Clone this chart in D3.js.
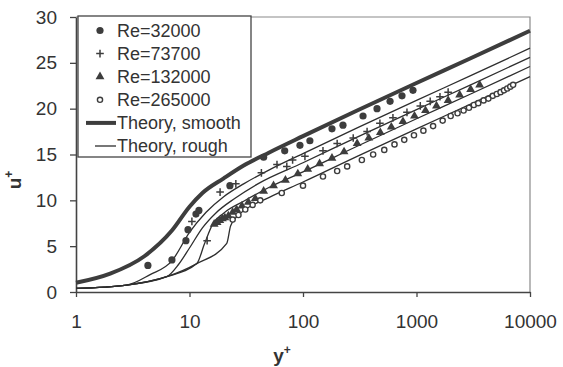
<!DOCTYPE html>
<html>
<head>
<meta charset="utf-8">
<script src="https://cdn.jsdelivr.net/npm/d3@7"></script>
<style>
  body { margin: 0; background: #fff; }
  text { font-family: "Liberation Sans", Arial, sans-serif; fill: #333; }
</style>
</head>
<body>
<div id="chart"></div>
<script>
// theory curves (y+, u+)
const smoothYp = [1, 2, 4, 7, 10, 13, 20, 30, 50, 100, 300, 1000, 3000, 10000];
const smoothUp = [1.0, 2.0, 3.9, 6.7, 9.3, 10.8, 12.4, 13.8, 15.2, 17.0, 19.8, 22.8, 25.5, 28.5];

const rough1Yp = [1, 2.8, 4.5, 7, 10, 14, 20, 30, 50, 100, 300, 1000, 3000, 10000];
const rough1Up = [0.4, 0.76, 1.9, 3.4, 6.5, 8.7, 10.4, 11.8, 13.3, 15.1, 17.9, 20.9, 23.6, 26.6];
const rough2Yp = [1, 2.8, 6.3, 8, 10, 13, 17, 25, 40, 100, 300, 1000, 3000, 10000];
const rough2Up = [0.4, 0.76, 1.67, 3.0, 4.8, 7.0, 8.6, 10.2, 11.8, 14.1, 16.9, 19.9, 22.6, 25.6];
const rough3Yp = [1, 2.8, 6.3, 11.6, 13.5, 16, 20, 30, 50, 100, 300, 1000, 3000, 10000];
const rough3Up = [0.4, 0.76, 1.67, 3.1, 5.2, 7.4, 8.6, 9.9, 11.4, 13.1, 15.9, 18.9, 21.6, 24.6];
const rough4Yp = [1, 2.8, 6.3, 11.6, 21.3, 23, 26, 32, 50, 100, 300, 1000, 3000, 10000];
const rough4Up = [0.4, 0.76, 1.67, 3.1, 5.3, 7.2, 8.2, 9.1, 10.3, 12.0, 14.8, 17.8, 20.5, 23.5];

// measurements
const re32Yp = [4.3, 7.0, 9.3, 9.7, 11.4, 12.1, 22.7, 45, 69, 94, 115, 180, 225, 338, 449, 585, 745, 931];
const re32Up = [2.9, 3.5, 5.6, 6.8, 8.5, 8.9, 11.6, 14.7, 15.4, 16.0, 16.5, 17.8, 18.2, 19.2, 20.0, 20.8, 21.4, 22.0];

const re73Yp = [10.5, 14.3, 18.6, 25.6, 43, 59, 72, 81, 104, 150, 200, 277, 367, 476, 620, 824, 1080, 1320, 1610, 1900];
const re73Up = [7.7, 5.6, 10.9, 11.8, 13.0, 13.9, 13.7, 14.4, 14.8, 15.4, 16.2, 16.8, 17.5, 18.4, 19.0, 19.6, 20.3, 20.8, 21.3, 21.8];

const re132Yp = [16.5, 17.5, 18.5, 19.5, 20.5, 22, 24, 26, 29, 33, 38, 45, 55, 70, 90, 110, 140, 180, 230, 300, 380, 480, 600, 760, 960, 1200, 1500, 1900, 2400, 3000, 3600];
const re132Up = [7.4, 7.6, 7.8, 8.0, 8.1, 8.3, 8.7, 9.0, 9.4, 9.8, 10.2, 11.0, 11.6, 12.2, 12.9, 13.4, 14.0, 14.6, 15.3, 16.2, 16.8, 17.4, 18.0, 18.6, 19.2, 19.8, 20.3, 20.9, 21.5, 22.1, 22.6];

const re265Yp = [24, 27, 31, 36, 42, 65, 100, 150, 200, 245, 330, 415, 520, 640, 780, 950, 1150, 1400, 1700, 2000, 2300, 2600, 2900, 3200, 3500, 3900, 4300, 4700, 5100, 5500, 5900, 6300, 6700, 7100];
const re265Up = [7.9, 8.4, 9.0, 9.5, 10.0, 10.8, 11.6, 12.6, 13.2, 13.7, 14.4, 15.0, 15.5, 16.1, 16.6, 17.1, 17.6, 18.1, 18.7, 19.2, 19.5, 19.8, 20.1, 20.4, 20.6, 20.9, 21.1, 21.4, 21.6, 21.8, 22.0, 22.2, 22.4, 22.6];

const xTicks = [1, 10, 100, 1000, 10000];
const yTicks = [0, 5, 10, 15, 20, 25, 30];
const legendLabels = ['Re=32000', 'Re=73700', 'Re=132000', 'Re=265000', 'Theory, smooth', 'Theory, rough'];

const width = 563, height = 367;
const ink = '#3d3d3d';

const svg = d3.select('#chart').append('svg')
  .attr('width', width)
  .attr('height', height);

const x = d3.scaleLog().domain([1, 10000]).range([76, 530]);
const y = d3.scaleLinear().domain([0, 30]).range([292, 17]);

const zip = (a, b) => a.map((v, i) => [v, b[i]]);

// plot frame (top and right)
svg.append('path')
  .attr('d', `M${x(1)},${y(30)}H${x(10000)}V${y(0)}`)
  .attr('fill', 'none')
  .attr('stroke', '#8a8a8a')
  .attr('stroke-width', 1.2);

// axes
const yAxis = svg.append('g')
  .attr('transform', `translate(${x(1)},0)`)
  .call(d3.axisLeft(y).tickValues(yTicks).tickSize(6).tickSizeOuter(0).tickPadding(13));
const xAxis = svg.append('g')
  .attr('transform', `translate(0,${y(0)})`)
  .call(d3.axisBottom(x).tickValues(xTicks).tickFormat(d3.format('d')).tickSize(5).tickSizeOuter(0).tickPadding(18));

[xAxis, yAxis].forEach(g => {
  g.select('.domain').attr('stroke', '#444').attr('stroke-width', 1.6);
  g.selectAll('.tick line').attr('stroke', '#444').attr('stroke-width', 1.3);
  g.selectAll('.tick text').style('font-size', '19px').attr('fill', '#333');
});

// theory lines
const line = d3.line()
  .x(d => x(d[0]))
  .y(d => y(d[1]))
  .curve(d3.curveMonotoneX);

[[rough1Yp, rough1Up], [rough2Yp, rough2Up], [rough3Yp, rough3Up], [rough4Yp, rough4Up]].forEach(([a, b]) => {
  svg.append('path')
    .datum(zip(a, b))
    .attr('d', line)
    .attr('fill', 'none')
    .attr('stroke', '#2e2e2e')
    .attr('stroke-width', 1.3);
});

svg.append('path')
  .datum(zip(smoothYp, smoothUp))
  .attr('d', line)
  .attr('fill', 'none')
  .attr('stroke', ink)
  .attr('stroke-width', 4);

// markers
function marker(g, kind) {
  if (kind === 'circle') {
    g.append('circle').attr('r', 3.6).attr('fill', ink);
  } else if (kind === 'plus') {
    g.append('path').attr('d', 'M-3.8,0H3.8M0,-3.8V3.8')
      .attr('stroke', ink).attr('stroke-width', 1.5).attr('fill', 'none');
  } else if (kind === 'triangle') {
    g.append('path').attr('d', d3.symbol().type(d3.symbolTriangle).size(34)())
      .attr('fill', ink);
  } else {
    g.append('circle').attr('r', 2.6).attr('fill', '#fff')
      .attr('stroke', ink).attr('stroke-width', 1.4);
  }
}

const series = [
  { kind: 'circle', yp: re32Yp, up: re32Up },
  { kind: 'plus', yp: re73Yp, up: re73Up },
  { kind: 'triangle', yp: re132Yp, up: re132Up },
  { kind: 'open', yp: re265Yp, up: re265Up }
];

series.forEach(s => {
  svg.append('g').selectAll('g')
    .data(zip(s.yp, s.up))
    .join('g')
    .attr('transform', d => `translate(${x(d[0])},${y(d[1])})`)
    .each(function () { marker(d3.select(this), s.kind); });
});

// axis titles
const xt = svg.append('text')
  .attr('x', 282).attr('y', 362)
  .attr('text-anchor', 'middle')
  .style('font-size', '19px').style('font-weight', 'bold');
xt.append('tspan').text('y');
xt.append('tspan').attr('dy', -8).style('font-size', '12px').text('+');

const yt = svg.append('text')
  .attr('transform', 'translate(21,180) rotate(-90)')
  .attr('text-anchor', 'middle')
  .style('font-size', '19px').style('font-weight', 'bold');
yt.append('tspan').text('u');
yt.append('tspan').attr('dy', -8).style('font-size', '12px').text('+');

// legend
const lg = svg.append('g');
lg.append('rect')
  .attr('x', 78).attr('y', 16).attr('width', 173).attr('height', 141)
  .attr('fill', '#fff').attr('stroke', '#444').attr('stroke-width', 1.3);

const rowY = i => 30.5 + i * 23.1;
legendLabels.forEach((label, i) => {
  const g = lg.append('g').attr('transform', `translate(0,${rowY(i)})`);
  if (i < 4) {
    const m = g.append('g').attr('transform', 'translate(100,0)');
    marker(m, series[i].kind);
  } else if (i === 4) {
    g.append('line').attr('x1', 86).attr('x2', 116).attr('stroke', ink).attr('stroke-width', 4);
  } else {
    g.append('line').attr('x1', 95).attr('x2', 116).attr('stroke', '#2e2e2e').attr('stroke-width', 1.3);
  }
  g.append('text')
    .attr('x', 117).attr('dy', '0.36em')
    .style('font-size', '18px')
    .text(label);
});
</script>
</body>
</html>
